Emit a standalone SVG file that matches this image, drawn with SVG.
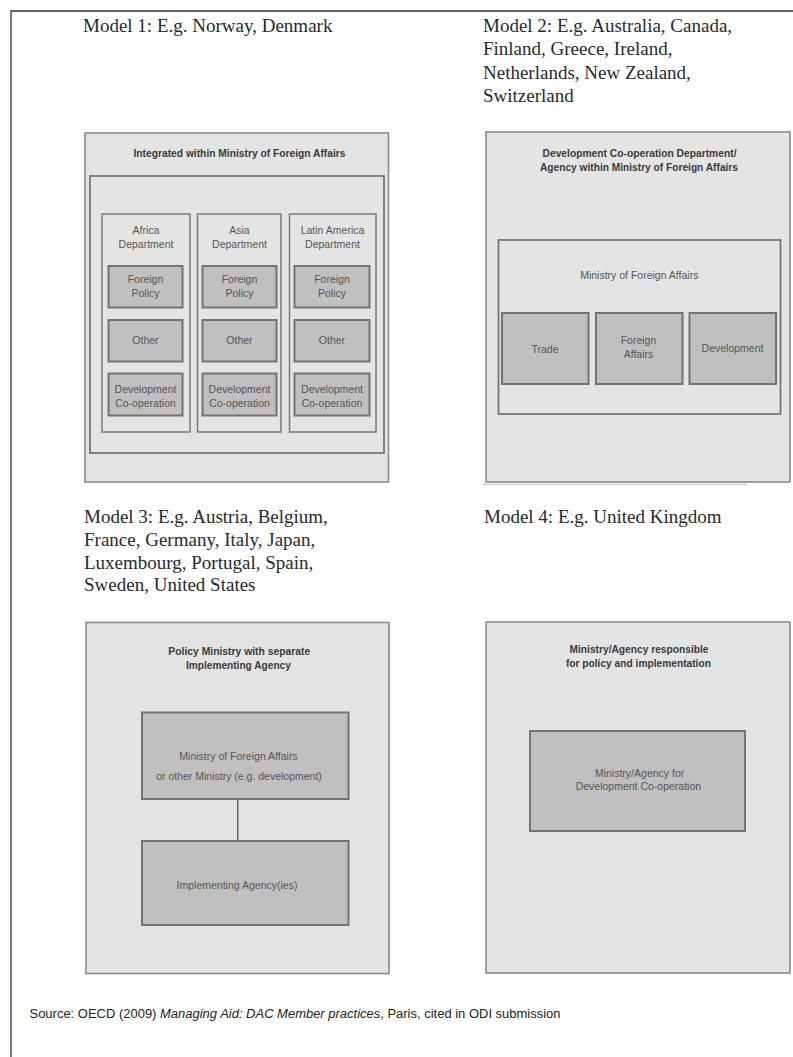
<svg xmlns="http://www.w3.org/2000/svg" width="793" height="1057" viewBox="0 0 793 1057">
<style>
.frame{fill:none;stroke:#333;stroke-width:1.3}
.outer{fill:#e4e4e4;stroke:#8a8a8a;stroke-width:1.6}
.panel{fill:#e4e4e4;stroke:#777;stroke-width:1.8}
.col{fill:#e4e4e4;stroke:#7a7a7a;stroke-width:1.5}
.cell{fill:#c0c0c0;stroke:#737373;stroke-width:2}
.model{font-family:"Liberation Serif","Times New Roman",serif;font-size:19px;fill:#262a30}
.ttl{font-family:"Liberation Sans",Arial,sans-serif;font-size:10.5px;font-weight:bold;fill:#3a3a3a;text-anchor:middle}
.lbl{font-family:"Liberation Sans",Arial,sans-serif;font-size:10.5px;fill:#555;text-anchor:middle}
.src{font-family:"Liberation Sans",Arial,sans-serif;font-size:12.5px;fill:#222}
.conn{stroke:#666;stroke-width:1.5;fill:none}
</style>
<rect width="793" height="1057" fill="#fff"/>
<path class="frame" d="M11,1057 V11 H793"/>

<g id="model1-caption"><text class="model" x="83" y="32">Model 1: E.g. Norway, Denmark</text></g>
<g id="model2-caption">
<text class="model" x="483" y="32">Model 2: E.g. Australia, Canada,</text>
<text class="model" x="483" y="55.3">Finland, Greece, Ireland,</text>
<text class="model" x="483" y="78.6">Netherlands, New Zealand,</text>
<text class="model" x="483" y="102">Switzerland</text>
</g>
<g id="model3-caption">
<text class="model" x="84" y="523.3">Model 3: E.g. Austria, Belgium,</text>
<text class="model" x="84" y="546">France, Germany, Italy, Japan,</text>
<text class="model" x="84" y="568.7">Luxembourg, Portugal, Spain,</text>
<text class="model" x="84" y="591.4">Sweden, United States</text>
</g>
<g id="model4-caption"><text class="model" x="484" y="523.3">Model 4: E.g. United Kingdom</text></g>

<!-- Model 1 -->
<g id="model1">
<rect class="outer" x="85" y="133" width="303.5" height="349"/>
<text class="ttl" x="239.5" y="157" textLength="212" lengthAdjust="spacingAndGlyphs">Integrated within Ministry of Foreign Affairs</text>
<g id="m1-mfa"><rect class="panel" x="90" y="176" width="294" height="277"/></g>
<g id="m1-africa">
<rect class="col" x="102" y="214" width="88" height="218"/>
<text class="lbl" x="146" y="234">Africa</text>
<text class="lbl" x="146" y="248">Department</text>
<rect class="cell" x="108.5" y="266" width="74" height="41.5"/>
<text class="lbl" x="145.5" y="283.3">Foreign</text>
<text class="lbl" x="145.5" y="296.7">Policy</text>
<rect class="cell" x="108.5" y="320" width="74" height="41.5"/>
<text class="lbl" x="145.5" y="344">Other</text>
<rect class="cell" x="108.5" y="373.5" width="74" height="42"/>
<text class="lbl" x="145.5" y="393.3">Development</text>
<text class="lbl" x="145.5" y="407.3">Co-operation</text>
</g>
<g id="m1-asia">
<rect class="col" x="197.5" y="214" width="83.5" height="218"/>
<text class="lbl" x="239.5" y="234">Asia</text>
<text class="lbl" x="239.5" y="248">Department</text>
<rect class="cell" x="202.5" y="266" width="74" height="41.5"/>
<text class="lbl" x="239.5" y="283.3">Foreign</text>
<text class="lbl" x="239.5" y="296.7">Policy</text>
<rect class="cell" x="202.5" y="320" width="74" height="41.5"/>
<text class="lbl" x="239.5" y="344">Other</text>
<rect class="cell" x="202.5" y="373.5" width="74" height="42"/>
<text class="lbl" x="239.5" y="393.3">Development</text>
<text class="lbl" x="239.5" y="407.3">Co-operation</text>
</g>
<g id="m1-latam">
<rect class="col" x="289.5" y="214" width="86.5" height="218"/>
<text class="lbl" x="332.5" y="234">Latin America</text>
<text class="lbl" x="332.5" y="248">Department</text>
<rect class="cell" x="294.5" y="266" width="75" height="41.5"/>
<text class="lbl" x="332" y="283.3">Foreign</text>
<text class="lbl" x="332" y="296.7">Policy</text>
<rect class="cell" x="294.5" y="320" width="75" height="41.5"/>
<text class="lbl" x="332" y="344">Other</text>
<rect class="cell" x="294.5" y="373.5" width="75" height="42"/>
<text class="lbl" x="332" y="393.3">Development</text>
<text class="lbl" x="332" y="407.3">Co-operation</text>
</g>
</g>

<!-- Model 2 -->
<g id="model2">
<rect class="outer" x="486" y="132" width="304" height="350"/>
<line x1="483" y1="484.5" x2="747" y2="484.5" stroke="#cfcfcf" stroke-width="1.5"/>
<text class="ttl" x="639.5" y="157" textLength="194" lengthAdjust="spacingAndGlyphs">Development Co-operation Department/</text>
<text class="ttl" x="639" y="170.5" textLength="198" lengthAdjust="spacingAndGlyphs">Agency within Ministry of Foreign Affairs</text>
<g id="m2-mfa">
<rect class="panel" x="498.5" y="240" width="282" height="174"/>
<text class="lbl" x="639.3" y="279">Ministry of Foreign Affairs</text>
</g>
<g id="m2-trade">
<rect class="cell" x="502" y="313" width="86.5" height="71"/>
<text class="lbl" x="545" y="352.7">Trade</text>
</g>
<g id="m2-foreign">
<rect class="cell" x="596" y="313" width="86.5" height="71"/>
<text class="lbl" x="638.5" y="344.3">Foreign</text>
<text class="lbl" x="638.5" y="357.7">Affairs</text>
</g>
<g id="m2-dev">
<rect class="cell" x="689.5" y="313" width="86.5" height="71"/>
<text class="lbl" x="732.5" y="351.7">Development</text>
</g>
</g>

<!-- Model 3 -->
<g id="model3">
<rect class="outer" x="86" y="622.5" width="303" height="351"/>
<text class="ttl" x="239.3" y="655" textLength="142" lengthAdjust="spacingAndGlyphs">Policy Ministry with separate</text>
<text class="ttl" x="238.4" y="669.3" textLength="105" lengthAdjust="spacingAndGlyphs">Implementing Agency</text>
</g>
<g id="m3-ministry">
<rect class="cell" x="142" y="712.5" width="206.5" height="86.5"/>
<text class="lbl" x="238.5" y="760">Ministry of Foreign Affairs</text>
<text class="lbl" x="239" y="780">or other Ministry (e.g. development)</text>
</g>
<g id="m3-agency">
<rect class="cell" x="142" y="841" width="206.5" height="84"/>
<text class="lbl" x="237" y="889.3">Implementing Agency(ies)</text>
</g>

<!-- Model 4 -->
<g id="model4">
<rect class="outer" x="486" y="622" width="304" height="351"/>
<text class="ttl" x="639" y="653.3" textLength="139" lengthAdjust="spacingAndGlyphs">Ministry/Agency responsible</text>
<text class="ttl" x="638.4" y="667.3" textLength="145" lengthAdjust="spacingAndGlyphs">for policy and implementation</text>
</g>
<g id="m4-agency">
<rect class="cell" x="530" y="731" width="215" height="100"/>
<text class="lbl" x="639.6" y="776.7">Ministry/Agency for</text>
<text class="lbl" x="638.4" y="790">Development Co-operation</text>
</g>

<g id="connectors">
<line class="conn" x1="237.7" y1="799" x2="237.7" y2="841"/>
</g>

<g id="source">
<text class="src" x="29.5" y="1018.3" textLength="531" lengthAdjust="spacingAndGlyphs">Source: OECD (2009) <tspan font-style="italic">Managing Aid: DAC Member practices</tspan>, Paris, cited in ODI submission</text>
</g>
</svg>
